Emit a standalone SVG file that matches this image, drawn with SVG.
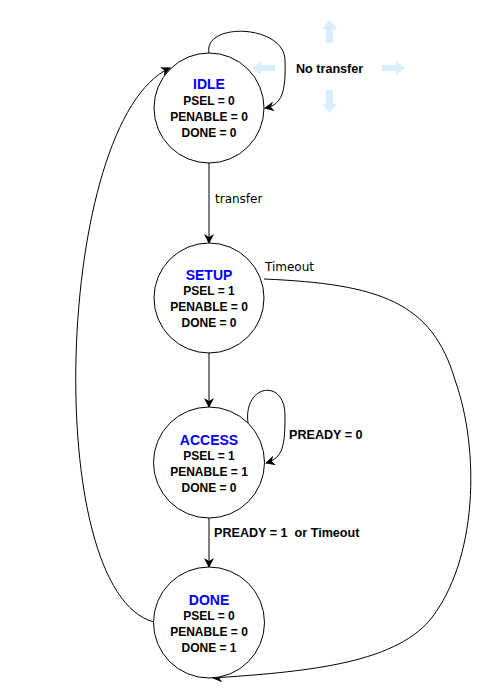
<svg xmlns="http://www.w3.org/2000/svg" width="489" height="690" viewBox="0 0 489 690">
<style>
.st{fill:#fff;stroke:#000;stroke-width:1}
.ti{font-family:"Liberation Sans",Arial,sans-serif;font-weight:bold;font-size:14px;fill:#0000ff;text-anchor:middle}
.li{font-family:"Liberation Sans",Arial,sans-serif;font-weight:bold;font-size:12px;fill:#000;text-anchor:middle}
.lb{font-family:"Liberation Sans",Arial,sans-serif;font-weight:bold;font-size:12.6px;fill:#000;white-space:pre}
.lr{font-family:"DejaVu Sans",Verdana,sans-serif;font-size:12px;fill:#000}
.c{fill:none;stroke:#000;stroke-width:1;marker-end:url(#ah)}
.bl{fill:#d9eefc}
</style>
<defs>
<marker id="ah" viewBox="0 0 10 10" refX="9" refY="5" markerWidth="10" markerHeight="10" markerUnits="userSpaceOnUse" orient="auto">
<path d="M0,0 L10,5 L0,10 L3,5 z" fill="#000"/>
</marker>
</defs>
<g id="cursor">
<polygon class="bl" points="329.5,20 337,29 333,29 333,43 326,43 326,29 322,29"/>
<polygon class="bl" points="329.5,113 337,104 333,104 333,90 326,90 326,104 322,104"/>
<polygon class="bl" points="252,68 261,61 261,65 275,65 275,71 261,71 261,75"/>
<polygon class="bl" points="405,68 396,61 396,65 382,65 382,71 396,71 396,75"/>
</g>
<g id="connectors">
<path class="c" d="M209,53 C203,22 284,24 285,60 C286,92 282,105 265,108"/>
<path class="c" d="M209,163 L209,243"/>
<path class="c" d="M209,353 L209,407"/>
<path class="c" d="M248,423 C243,384 285,378 285,415 C285,446 283,458 266,463"/>
<path class="c" d="M209,518 L209,567"/>
<path class="c" d="M154,622 C40,592 55,120 170,68"/>
<path class="c" d="M264,279 C380,284 432,302 455,380 C480,450 478,560 430,620 C392,665 300,672 213,678"/>
</g>
<g id="labels">
<text class="lb" x="296" y="73">No transfer</text>
<text class="lr" x="215" y="203">transfer</text>
<text class="lr" x="265" y="271">Timeout</text>
<text class="lb" x="289" y="439">PREADY = 0</text>
<text class="lb" x="214" y="537">PREADY = 1  or Timeout</text>
</g>
<g id="idle">
<circle class="st" cx="209" cy="108" r="55"/>
<text class="ti" x="209" y="89">IDLE</text>
<text class="li" x="209" y="105">PSEL = 0</text>
<text class="li" x="209" y="121">PENABLE = 0</text>
<text class="li" x="209" y="137">DONE = 0</text>
</g>
<g id="setup">
<circle class="st" cx="209" cy="298" r="55"/>
<text class="ti" x="209" y="280">SETUP</text>
<text class="li" x="209" y="295">PSEL = 1</text>
<text class="li" x="209" y="311">PENABLE = 0</text>
<text class="li" x="209" y="327">DONE = 0</text>
</g>
<g id="access">
<circle class="st" cx="209" cy="462.5" r="55.5"/>
<text class="ti" x="209" y="445">ACCESS</text>
<text class="li" x="209" y="460">PSEL = 1</text>
<text class="li" x="209" y="476">PENABLE = 1</text>
<text class="li" x="209" y="492">DONE = 0</text>
</g>
<g id="done">
<circle class="st" cx="209" cy="622.5" r="55.5"/>
<text class="ti" x="209" y="605">DONE</text>
<text class="li" x="209" y="620">PSEL = 0</text>
<text class="li" x="209" y="636">PENABLE = 0</text>
<text class="li" x="209" y="652">DONE = 1</text>
</g>
</svg>
